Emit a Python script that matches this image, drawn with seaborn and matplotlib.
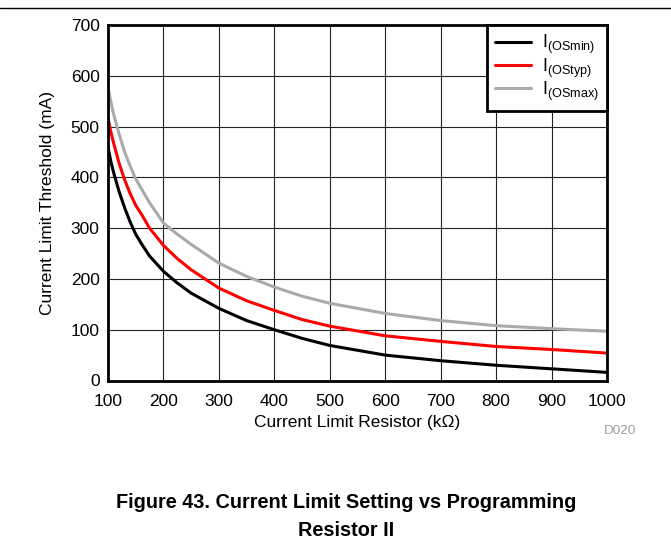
import numpy as np
import pandas as pd
import matplotlib
matplotlib.use("Agg")
import matplotlib.pyplot as plt
from matplotlib.lines import Line2D
import seaborn as sns

sns.set_theme(style="white")
plt.rcParams['font.family'] = ['Liberation Sans', 'DejaVu Sans']
plt.rcParams['mathtext.fontset'] = 'custom'
plt.rcParams['mathtext.rm'] = 'Liberation Sans'
plt.rcParams['text.color'] = 'black'

# input data
resistor = [100, 105, 110, 120, 130, 140, 150, 160, 175, 200, 225, 250, 300, 350, 400, 450, 500, 600, 700, 800, 900, 1000]
i_min = [460, 432, 410, 372, 340, 312, 288, 270, 245, 215, 192, 172, 142, 118, 100, 83, 69, 50, 39, 30, 23, 16]
i_typ = [517, 490, 468, 428, 395, 368, 345, 328, 300, 266, 240, 218, 182, 157, 138, 120, 107, 88, 77, 67, 61, 54]
i_max = [577, 550, 525, 485, 450, 422, 397, 378, 350, 310, 288, 268, 231, 205, 184, 166, 152, 132, 118, 108, 102, 97]

labels = [r'I$_{\rm (OSmin)}$', r'I$_{\rm (OStyp)}$', r'I$_{\rm (OSmax)}$']
colors = ['#000000', '#ff0000', '#aaaaaa']

df = pd.concat([
    pd.DataFrame({'R': resistor, 'I': i_min, 'Type': labels[0]}),
    pd.DataFrame({'R': resistor, 'I': i_typ, 'Type': labels[1]}),
    pd.DataFrame({'R': resistor, 'I': i_max, 'Type': labels[2]}),
])

fig = plt.figure(figsize=(6.71, 5.52), dpi=100)
ax = fig.add_axes([108 / 671, 1 - 380.5 / 552, (607 - 108) / 671, (380.5 - 25) / 552])

sns.lineplot(data=df, x='R', y='I', hue='Type', palette=colors, linewidth=2.2, ax=ax, legend=False)

ax.set_xlim(100, 1000)
ax.set_ylim(0, 700)
ax.set_xticks(range(100, 1001, 100))
ax.set_yticks(range(0, 701, 100))
ax.grid(True, color='#222222', linewidth=0.8)
ax.tick_params(axis='both', length=0, labelsize=12.5, colors='black')
ax.tick_params(axis='x', pad=10)
ax.tick_params(axis='y', pad=6)
for s in ax.spines.values():
    s.set_color('black')
    s.set_linewidth(2)
ax.set_xlabel('Current Limit Resistor (k\u03a9)', fontsize=12.5, color='black', labelpad=4)
ax.set_ylabel('Current Limit Threshold (mA)', fontsize=12.5, color='black', labelpad=11)

handles = [Line2D([], [], color=c, linewidth=2.2) for c in colors]
leg = ax.legend(handles, labels, loc='upper right', fontsize=13, frameon=True, fancybox=False,
                borderaxespad=0, handlelength=2.0, handletextpad=0.6, labelspacing=0.0,
                borderpad=0.45)
leg.get_frame().set_edgecolor('black')
leg.get_frame().set_linewidth(2)
leg.get_frame().set_alpha(1)

fig.add_artist(Line2D([0, 1], [1 - 8 / 552, 1 - 8 / 552], color='black', linewidth=1))
fig.text(620 / 671, 1 - 431 / 552, 'D020', fontsize=9.7, color='#a0a0a0', ha='center', va='center')
fig.text(346 / 671, 1 - 502 / 552, 'Figure 43. Current Limit Setting vs Programming',
         fontsize=14.3, fontweight='bold', color='black', ha='center', va='center')
fig.text(346 / 671, 1 - 530 / 552, 'Resistor II',
         fontsize=14.3, fontweight='bold', color='black', ha='center', va='center')

fig.savefig('out.png', dpi=100)
